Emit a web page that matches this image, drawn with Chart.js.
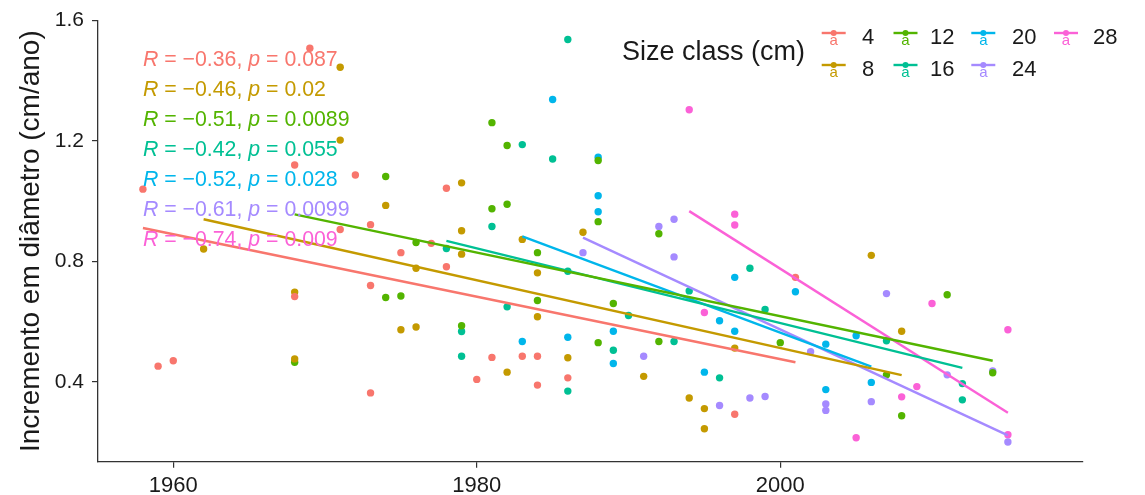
<!DOCTYPE html>
<html>
<head>
<meta charset="utf-8">
<script src="https://cdn.jsdelivr.net/npm/chart.js@4"></script>
<style>
  html, body { margin: 0; padding: 0; background: #fff; }
  #wrap { width: 1145px; height: 495px; }
</style>
</head>
<body>
<div id="wrap"><canvas id="chart" width="1145" height="495"></canvas></div>
<script>
// size classes and colours (ggplot hue palette)
const sizeClasses = ['4', '8', '12', '16', '20', '24', '28'];
const classColors = ['#F8766D', '#C49A00', '#53B400', '#00C094', '#00B6EB', '#A58AFF', '#FB61D7'];

// observations per class: year and diameter increment (cm/ano)
const yearsC4  = [1958, 1959, 1960, 1968, 1968, 1969, 1971, 1972, 1973, 1973, 1973, 1975, 1977, 1978, 1978, 1980, 1981, 1983, 1984, 1984, 1986, 1997, 2001];
const incrC4   = [1.04, 0.452, 0.47, 1.12, 0.683, 1.508, 0.906, 1.087, 0.922, 0.72, 0.363, 0.829, 0.86, 1.043, 0.782, 0.408, 0.481, 0.485, 0.485, 0.389, 0.413, 0.292, 0.747];

const yearsC8  = [1962, 1968, 1968, 1971, 1971, 1974, 1975, 1976, 1976, 1979, 1979, 1979, 1982, 1983, 1984, 1984, 1986, 1987, 1991, 1994, 1995, 1995, 1997, 2006, 2008];
const incrC8   = [0.841, 0.698, 0.476, 1.445, 1.203, 0.986, 0.573, 0.777, 0.582, 1.061, 0.902, 0.824, 0.432, 0.873, 0.762, 0.616, 0.48, 0.897, 0.418, 0.346, 0.311, 0.244, 0.512, 0.82, 0.568];

const yearsC12 = [1968, 1974, 1974, 1975, 1976, 1979, 1981, 1981, 1982, 1982, 1984, 1984, 1988, 1988, 1988, 1989, 1992, 1992, 2000, 2007, 2008, 2011, 2014];
const incrC12  = [0.465, 1.082, 0.68, 0.685, 0.863, 0.586, 1.261, 0.975, 1.185, 0.99, 0.829, 0.67, 1.135, 0.932, 0.53, 0.66, 0.892, 0.534, 0.53, 0.423, 0.287, 0.689, 0.43];

const yearsC16 = [1978, 1979, 1979, 1981, 1982, 1983, 1985, 1986, 1986, 1986, 1989, 1990, 1993, 1994, 1996, 1998, 1999, 2007, 2012, 2012];
const incrC16  = [0.843, 0.567, 0.485, 0.916, 0.649, 1.188, 1.14, 1.537, 0.767, 0.369, 0.505, 0.62, 0.534, 0.702, 0.413, 0.777, 0.64, 0.536, 0.394, 0.34];

const yearsC20 = [1983, 1985, 1986, 1988, 1988, 1988, 1989, 1989, 1995, 1996, 1997, 1997, 2001, 2003, 2003, 2005, 2006];
const incrC20  = [0.534, 1.338, 0.548, 1.146, 1.018, 0.965, 0.568, 0.461, 0.432, 0.603, 0.747, 0.568, 0.699, 0.525, 0.374, 0.553, 0.398];

const yearsC24 = [1987, 1991, 1992, 1993, 1993, 1996, 1998, 1999, 2002, 2003, 2003, 2006, 2007, 2011, 2014, 2015];
const incrC24  = [0.829, 0.485, 0.916, 0.94, 0.815, 0.321, 0.346, 0.351, 0.50, 0.326, 0.305, 0.334, 0.693, 0.423, 0.436, 0.2];

const yearsC28 = [1994, 1995, 1997, 1997, 2005, 2008, 2009, 2010, 2015, 2015];
const incrC28  = [1.304, 0.63, 0.957, 0.921, 0.214, 0.35, 0.384, 0.66, 0.573, 0.224];

const classYears = [yearsC4, yearsC8, yearsC12, yearsC16, yearsC20, yearsC24, yearsC28];
const classIncr  = [incrC4, incrC8, incrC12, incrC16, incrC20, incrC24, incrC28];

// fitted regression lines
const fitStartYear  = [1958, 1962, 1968, 1978, 1983, 1987, 1994];
const fitEndYear    = [2001, 2008, 2014, 2012, 2006, 2015, 2015];
const fitStartValue = [0.911, 0.940, 0.956, 0.868, 0.883, 0.879, 0.967];
const fitEndValue   = [0.465, 0.422, 0.470, 0.446, 0.450, 0.222, 0.297];

// correlation labels
const corrR = ['\u22120.36', '\u22120.46', '\u22120.51', '\u22120.42', '\u22120.52', '\u22120.61', '\u22120.74'];
const corrP = ['0.087', '0.02', '0.0089', '0.055', '0.028', '0.0099', '0.009'];
const corrLabelX = 1958;
const corrLabelY = [1.47, 1.37, 1.27, 1.17, 1.07, 0.97, 0.87];

const xTicks = [1960, 1980, 2000];
const yTicks = [0.4, 0.8, 1.2, 1.6];

const FONT = '"Liberation Sans", Arial, Helvetica, sans-serif';

const datasets = [];
sizeClasses.forEach((c, i) => {
    datasets.push({
        type: 'line',
        label: 'fit ' + c,
        data: [{ x: fitStartYear[i], y: fitStartValue[i] }, { x: fitEndYear[i], y: fitEndValue[i] }],
        borderColor: classColors[i],
        borderWidth: 2.4,
        pointRadius: 0,
        fill: false,
        order: 1
    });
});
sizeClasses.forEach((c, i) => {
    datasets.push({
        type: 'scatter',
        label: c,
        data: classYears[i].map((yr, k) => ({ x: yr, y: classIncr[i][k] })),
        backgroundColor: classColors[i],
        borderColor: classColors[i],
        borderWidth: 0,
        pointRadius: 3.7,
        order: 2
    });
});

// R / p annotations in the upper left
const corrLabels = {
    id: 'corrLabels',
    afterDatasetsDraw(chart) {
        const ctx = chart.ctx;
        const xs = chart.scales.x, ys = chart.scales.y;
        ctx.save();
        ctx.textBaseline = 'middle';
        ctx.textAlign = 'left';
        corrR.forEach((r, i) => {
            let x = xs.getPixelForValue(corrLabelX);
            const y = ys.getPixelForValue(corrLabelY[i]);
            ctx.fillStyle = classColors[i];
            const parts = [
                ['italic', 'R'], ['normal', ' = ' + r + ', '],
                ['italic', 'p'], ['normal', ' = ' + corrP[i]]
            ];
            parts.forEach(([style, txt]) => {
                ctx.font = style + ' 21.3px ' + FONT;
                ctx.fillText(txt, x, y);
                x += ctx.measureText(txt).width;
            });
        });
        ctx.restore();
    }
};

// ggplot-style legend at top right
const legendKeyX = [833.7, 905.5, 983.3, 1066];
const legendLabelX = [862, 930, 1012, 1093];
const legendRowY = [38, 70];
const customLegend = {
    id: 'customLegend',
    afterDraw(chart) {
        const ctx = chart.ctx;
        ctx.save();
        ctx.fillStyle = '#1a1a1a';
        ctx.textBaseline = 'middle';
        ctx.textAlign = 'left';
        ctx.font = '27px ' + FONT;
        ctx.fillText('Size class (cm)', 622, 53);
        sizeClasses.forEach((c, i) => {
            const col = Math.floor(i / 2), row = i % 2;
            const kx = legendKeyX[col], ky = legendRowY[row];
            ctx.strokeStyle = classColors[i];
            ctx.lineWidth = 2.4;
            ctx.beginPath();
            ctx.moveTo(kx - 12, ky - 5);
            ctx.lineTo(kx + 12, ky - 5);
            ctx.stroke();
            ctx.fillStyle = classColors[i];
            ctx.beginPath();
            ctx.arc(kx, ky - 5, 3, 0, Math.PI * 2);
            ctx.fill();
            ctx.textAlign = 'center';
            ctx.font = '15px ' + FONT;
            ctx.fillText('a', kx, ky + 3);
            ctx.textAlign = 'left';
            ctx.fillStyle = '#1a1a1a';
            ctx.font = '22px ' + FONT;
            ctx.fillText(c, legendLabelX[col], ky);
        });
        ctx.restore();
    }
};

const ctx = document.getElementById('chart').getContext('2d');
const chart = new Chart(ctx, {
    type: 'scatter',
    data: { datasets: datasets },
    options: {
        responsive: false,
        animation: false,
        layout: { padding: { top: 20, right: 62, left: 0, bottom: 0 } },
        plugins: {
            legend: { display: false },
            tooltip: { enabled: false }
        },
        scales: {
            x: {
                type: 'linear',
                min: 1955.04,
                max: 2019.95,
                afterBuildTicks: s => { s.ticks = xTicks.map(v => ({ value: v })); },
                afterFit: s => { s.height = 33.3; },
                grid: { drawOnChartArea: false, drawTicks: true, tickLength: 6, color: '#333', lineWidth: 1.2 },
                border: { display: true, color: '#333', width: 1.3 },
                ticks: {
                    padding: 5,
                    color: '#1a1a1a',
                    font: { family: FONT, size: 22 },
                    callback: v => String(v)
                }
            },
            y: {
                type: 'linear',
                min: 0.1345,
                max: 1.6,
                afterBuildTicks: s => { s.ticks = yTicks.map(v => ({ value: v })); },
                afterFit: s => { s.width = 98; },
                grid: { drawOnChartArea: false, drawTicks: true, tickLength: 6, color: '#333', lineWidth: 1.2 },
                border: { display: true, color: '#333', width: 1.3 },
                ticks: {
                    padding: 8,
                    color: '#1a1a1a',
                    font: { family: FONT, size: 21 },
                    callback: v => v.toFixed(1)
                },
                title: {
                    display: true,
                    text: 'Incremento em di\u00e2metro (cm/ano)',
                    color: '#1a1a1a',
                    font: { family: FONT, size: 28 },
                    padding: { top: 14, bottom: 0 }
                }
            }
        }
    },
    plugins: [corrLabels, customLegend]
});
</script>
</body>
</html>
